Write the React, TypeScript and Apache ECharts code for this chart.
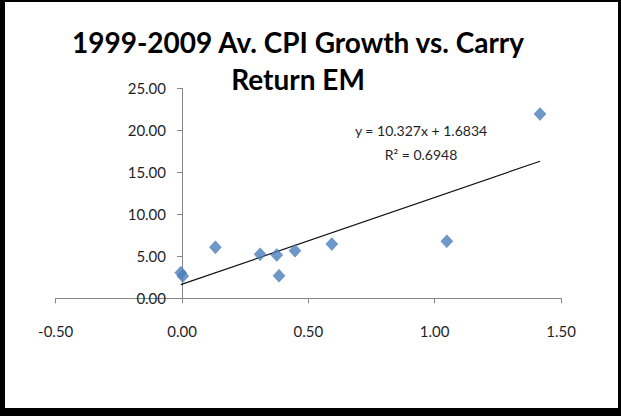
import React, { useEffect, useRef } from "react";
import * as echarts from "echarts";

const titleLines = ["1999-2009 Av. CPI Growth vs. Carry", "Return EM"];
const xValues = [-0.005, 0.003, 0.132, 0.309, 0.375, 0.384, 0.447, 0.593, 1.048, 1.417];
const yValues = [3.05, 2.65, 6.07, 5.24, 5.15, 2.69, 5.67, 6.46, 6.79, 21.94];
const trendSlope = 10.327;
const trendIntercept = 1.6834;
const rSquared = 0.6948;
const xTicks = { min: -0.5, max: 1.5, interval: 0.5 };
const yTicks = { min: 0, max: 25, interval: 5 };

export default function App() {
  const ref = useRef<HTMLDivElement>(null);
  useEffect(() => {
    if (!ref.current) return;
    const chart = echarts.init(ref.current, null, { renderer: "svg" });
    const points = xValues.map((x, i) => [x, yValues[i]]);
    const xMin = Math.min(...xValues);
    const xMax = Math.max(...xValues);
    const trend = [
      [xMin, trendSlope * xMin + trendIntercept],
      [xMax, trendSlope * xMax + trendIntercept],
    ];
    const gridLeft = 55.7;
    const gridRight = 60;
    const plotWidth = 621 - gridLeft - gridRight;
    const zeroOffset = ((0 - xTicks.min) / (xTicks.max - xTicks.min)) * plotWidth;
    const labelFont = { fontFamily: "Lato", fontSize: 15, color: "#1f1f2a" };
    chart.setOption({
      animation: false,
      backgroundColor: "#ffffff",
      grid: { left: gridLeft, right: gridRight, top: 88.3, bottom: 117.7, containLabel: false },
      xAxis: {
        type: "value",
        min: xTicks.min,
        max: xTicks.max,
        interval: xTicks.interval,
        splitLine: { show: false },
        axisLine: { show: true, onZero: false, lineStyle: { color: "#868686", width: 1 } },
        axisTick: { show: true, length: 5, lineStyle: { color: "#868686" } },
        axisLabel: { ...labelFont, margin: 25, formatter: (v: number) => v.toFixed(2) },
      },
      yAxis: {
        type: "value",
        min: yTicks.min,
        max: yTicks.max,
        interval: yTicks.interval,
        offset: -zeroOffset,
        splitLine: { show: false },
        axisLine: { show: true, onZero: false, lineStyle: { color: "#868686", width: 1 } },
        axisTick: { show: true, length: 5, lineStyle: { color: "#868686" } },
        axisLabel: { ...labelFont, margin: 16, formatter: (v: number) => v.toFixed(2) },
      },
      series: [
        {
          type: "line",
          data: trend,
          showSymbol: false,
          symbol: "none",
          lineStyle: { color: "#111111", width: 1.2 },
          z: 2,
        },
        {
          type: "scatter",
          data: points,
          symbol: "diamond",
          symbolSize: [12, 13],
          itemStyle: { color: "#4A7EBB", borderColor: "#3f72ad", borderWidth: 0.5 },
          z: 3,
        },
      ],
      graphic: [
        {
          type: "text",
          x: 298,
          y: 42,
          style: {
            text: titleLines[0],
            fontFamily: "Lato",
            fontWeight: "bold",
            fontSize: 28,
            fill: "#000",
            align: "center",
            verticalAlign: "middle",
          },
        },
        {
          type: "text",
          x: 298,
          y: 79,
          style: {
            text: titleLines[1],
            fontFamily: "Lato",
            fontWeight: "bold",
            fontSize: 28,
            fill: "#000",
            align: "center",
            verticalAlign: "middle",
          },
        },
        {
          type: "text",
          x: 421,
          y: 130,
          style: {
            text: `y = ${trendSlope}x + ${trendIntercept}`,
            fontFamily: "Lato",
            fontSize: 14,
            fill: "#1f1f2a",
            align: "center",
            verticalAlign: "middle",
          },
        },
        {
          type: "text",
          x: 421,
          y: 154,
          style: {
            text: `R² = ${rSquared}`,
            fontFamily: "Lato",
            fontSize: 14,
            fill: "#1f1f2a",
            align: "center",
            verticalAlign: "middle",
          },
        },
        { type: "rect", shape: { x: 0, y: 0, width: 5, height: 416 }, style: { fill: "#000" }, z: 100 },
        { type: "rect", shape: { x: 0, y: 0, width: 621, height: 2 }, style: { fill: "#000" }, z: 100 },
        { type: "rect", shape: { x: 618, y: 0, width: 3, height: 416 }, style: { fill: "#000" }, z: 100 },
        { type: "rect", shape: { x: 0, y: 408, width: 621, height: 8 }, style: { fill: "#000" }, z: 100 },
      ],
    });
    return () => chart.dispose();
  }, []);
  return (
    <div
      ref={ref}
      style={{ position: "fixed", left: 0, top: 0, width: 621, height: 416 }}
    />
  );
}
